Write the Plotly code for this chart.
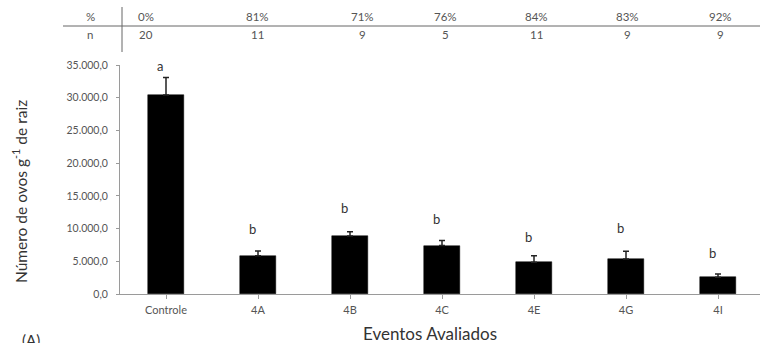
import plotly.graph_objects as go

# Data
eventos = ["Controle", "4A", "4B", "4C", "4E", "4G", "4I"]
media_ovos = [30400, 5850, 8850, 7400, 4850, 5350, 2550]
erro_ovos = [2700, 720, 660, 770, 1000, 1200, 500]
letras = ["a", "b", "b", "b", "b", "b", "b"]

# Summary table above the chart
tabela_pct = ["0%", "81%", "71%", "76%", "84%", "83%", "92%"]
tabela_n = ["20", "11", "9", "5", "11", "9", "9"]

y_ticks = [0, 5000, 10000, 15000, 20000, 25000, 30000, 35000]
y_tick_text = ["0,0", "5.000,0", "10.000,0", "15.000,0", "20.000,0",
               "25.000,0", "30.000,0", "35.000,0"]

# Layout geometry (pixels)
W, H = 760, 343
ML, MR, MT, MB = 120, 0, 65, 49
plot_w = W - ML - MR
plot_h = H - MT - MB
band = 92.0


def px_x(px):
    return (px - ML) / plot_w


def px_y(py):
    return (H - MB - py) / plot_h


FONT = "Lato, 'Open Sans', sans-serif"
GREY = "#555555"
AXIS = "#9a9a9a"


def label(px, py, text, size, color=GREY, angle=0):
    return dict(x=px_x(px), y=px_y(py), xref="paper", yref="paper",
                xanchor="center", yanchor="middle", text=text,
                textangle=angle, showarrow=False,
                font=dict(family=FONT, size=size, color=color))


fig = go.Figure()
fig.add_trace(go.Bar(
    x=list(range(len(eventos))),
    y=media_ovos,
    width=0.40,
    marker=dict(color="#000000", line=dict(color="#000000", width=0.5)),
    error_y=dict(type="data", array=erro_ovos, arrayminus=[0] * len(erro_ovos),
                 symmetric=False, color="#222222", thickness=1.5, width=3),
    showlegend=False,
    hoverinfo="skip",
))

# Significance letters above the bars
letter_shift = [11, 22, 24, 22, 19, 23, 21]
annotations = []
for i, (m, e, l) in enumerate(zip(media_ovos, erro_ovos, letras)):
    annotations.append(dict(
        x=i, y=m + e, xref="x", yref="y", text=l, showarrow=False,
        xanchor="center", yanchor="middle",
        yshift=letter_shift[i], xshift=-6,
        font=dict(family=FONT, size=13, color="#333333"),
    ))

# Table text
col_px = [146, 257, 362, 445, 536, 627, 720]
row_pct_y, row_n_y = 16, 35
annotations.append(label(90, row_pct_y, "%", 11.5))
annotations.append(label(90, row_n_y, "n", 11.5))
for cx, p, n in zip(col_px, tabela_pct, tabela_n):
    annotations.append(label(cx, row_pct_y, p, 11.5))
    annotations.append(label(cx, row_n_y, n, 11.5))

# Axis titles and panel label
annotations.append(label(19, 192, "Número de ovos g<sup>-1</sup> de raiz", 15.5,
                         color="#333333", angle=-90))
annotations.append(label(430, 333, "Eventos Avaliados", 17, color="#333333"))
annotations.append(label(31, 340, "(A)", 15, color="#333333"))

shapes = [
    dict(type="line", xref="paper", yref="paper",
         x0=px_x(63), x1=px_x(760), y0=px_y(26), y1=px_y(26),
         line=dict(color="#666666", width=1)),
    dict(type="line", xref="paper", yref="paper",
         x0=px_x(122), x1=px_x(122), y0=px_y(7), y1=px_y(52),
         line=dict(color="#666666", width=1)),
]

fig.update_layout(
    width=W, height=H,
    margin=dict(l=ML, r=MR, t=MT, b=MB, pad=0),
    paper_bgcolor="white", plot_bgcolor="white",
    font=dict(family=FONT, color=GREY),
    annotations=annotations,
    shapes=shapes,
    bargap=0,
)
fig.update_xaxes(
    range=[-0.5, -0.5 + plot_w / band],
    tickvals=list(range(len(eventos))), ticktext=eventos,
    tickson="boundaries", ticks="outside", ticklen=4, tickcolor=AXIS,
    ticklabelstandoff=2,
    showline=True, linecolor=AXIS, linewidth=1,
    showgrid=False, zeroline=False,
    tickfont=dict(family=FONT, size=11, color=GREY),
)
fig.update_yaxes(
    range=[0, 35000],
    tickvals=y_ticks, ticktext=y_tick_text,
    ticks="outside", ticklen=3, tickcolor=AXIS,
    ticklabelstandoff=6,
    showline=True, linecolor=AXIS, linewidth=1,
    showgrid=False, zeroline=False,
    tickfont=dict(family=FONT, size=10.5, color=GREY),
)

fig.write_html("out.html")
